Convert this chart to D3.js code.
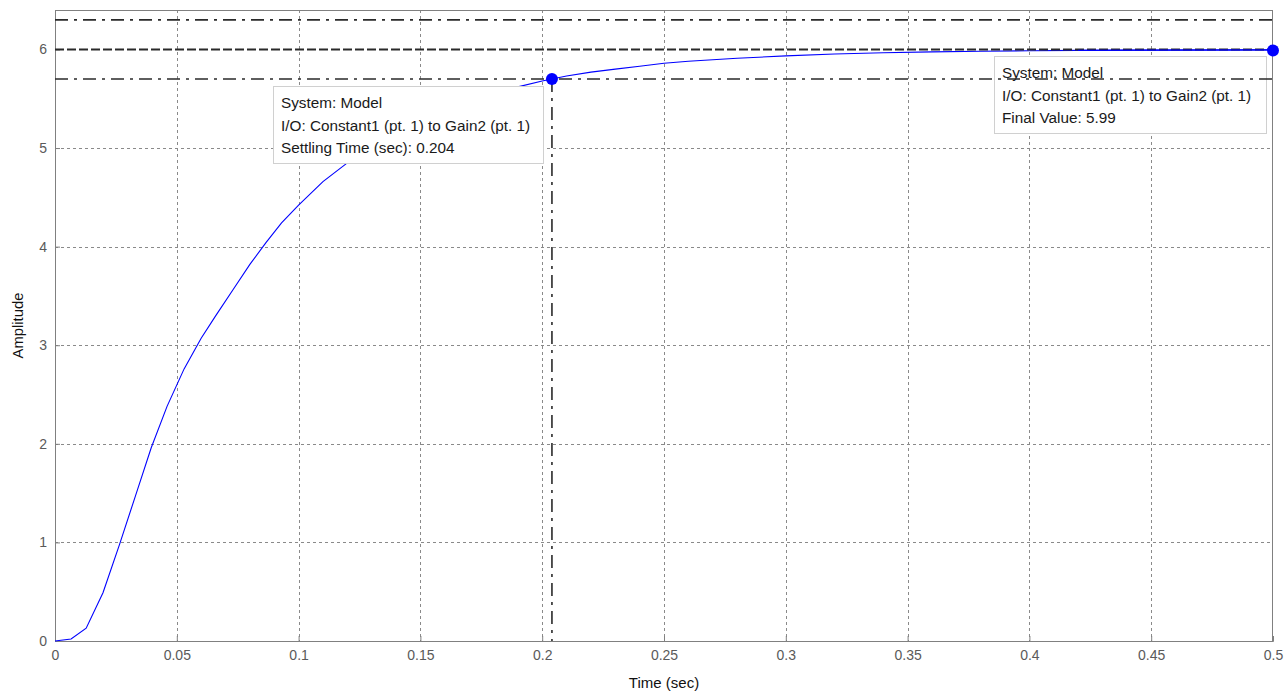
<!DOCTYPE html>
<html>
<head>
<meta charset="utf-8">
<script src="https://cdn.jsdelivr.net/npm/d3@7"></script>
<style>
  html, body { margin: 0; padding: 0; background: #fff; }
  svg { display: block; font-family: Arial, "Liberation Sans", sans-serif; }
</style>
</head>
<body>
<svg id="chart" width="1286" height="691"></svg>
<script>
// ---- data ----
const timeSec = [0, 0.0066, 0.0128, 0.0197, 0.0265, 0.033, 0.0395, 0.046, 0.053, 0.06, 0.066, 0.073, 0.08, 0.0866, 0.093, 0.1, 0.11, 0.12, 0.13, 0.14, 0.15, 0.16, 0.17, 0.18, 0.19, 0.2, 0.204, 0.21, 0.22, 0.23, 0.24, 0.25, 0.26, 0.28, 0.3, 0.32, 0.34, 0.36, 0.38, 0.4, 0.42, 0.45, 0.5];
const amplitude = [0, 0.02, 0.13, 0.49, 0.98, 1.47, 1.96, 2.38, 2.76, 3.07, 3.30, 3.56, 3.82, 4.04, 4.24, 4.42, 4.66, 4.85, 5.02, 5.16, 5.29, 5.39, 5.48, 5.56, 5.62, 5.68, 5.70, 5.73, 5.77, 5.80, 5.83, 5.86, 5.88, 5.91, 5.935, 5.953, 5.966, 5.975, 5.982, 5.987, 5.99, 5.993, 5.996];
const xTicks = [0, 0.05, 0.1, 0.15, 0.2, 0.25, 0.3, 0.35, 0.4, 0.45, 0.5];
const yTicks = [0, 1, 2, 3, 4, 5, 6];
const finalValue = 6;
const settlingBand = [5.7, 6.3];
const settlingPoint = {t: 0.204, y: 5.70};
const finalPoint = {t: 0.5, y: 5.99};
const tip1 = ["System: Model", "I/O: Constant1 (pt. 1) to Gain2 (pt. 1)", "Settling Time (sec): 0.204"];
const tip2 = ["System: Model", "I/O: Constant1 (pt. 1) to Gain2 (pt. 1)", "Final Value: 5.99"];

// ---- layout ----
const W = 1286, H = 691;
const m = {top: 10, right: 13, bottom: 50, left: 55};
const svg = d3.select("#chart");
const x = d3.scaleLinear().domain([0, 0.5]).range([m.left, W - m.right]);
const y = d3.scaleLinear().domain([0, 6.4]).range([H - m.bottom, m.top]);
const x0 = x.range()[0], x1 = x.range()[1], y0 = y.range()[0], y1 = y.range()[1];

// grid
const grid = svg.append("g").attr("stroke", "#8a8a8a").attr("stroke-width", 1).attr("stroke-dasharray", "3,3");
grid.selectAll("line.gx").data(xTicks.slice(1, -1)).join("line")
  .attr("x1", d => Math.round(x(d)) + 0.5).attr("x2", d => Math.round(x(d)) + 0.5)
  .attr("y1", y1).attr("y2", y0);
grid.selectAll("line.gy").data(yTicks.slice(1)).join("line")
  .attr("y1", d => Math.round(y(d)) + 0.5).attr("y2", d => Math.round(y(d)) + 0.5)
  .attr("x1", x0).attr("x2", x1);

// axes (ticks inward, matlab style)
const xAxis = d3.axisBottom(x).tickValues(xTicks).tickSize(-5).tickPadding(9).tickFormat(d => String(+d.toFixed(2)));
const yAxis = d3.axisLeft(y).tickValues(yTicks).tickSize(-5).tickPadding(8).tickFormat(d3.format("d"));
const gx = svg.append("g").attr("transform", `translate(0,${y0})`).call(xAxis);
const gy = svg.append("g").attr("transform", `translate(${x0},0)`).call(yAxis);
[gx, gy].forEach(g => {
  g.select(".domain").attr("stroke", "#808080");
  g.selectAll(".tick line").attr("stroke", "#808080");
  g.selectAll(".tick text").attr("fill", "#5a5a5a").attr("font-size", 14).attr("font-family", "Arial, 'Liberation Sans', sans-serif");
});
// top and right box edges
svg.append("line").attr("x1", x0).attr("x2", x1).attr("y1", y1 + 0.5).attr("y2", y1 + 0.5).attr("stroke", "#808080");
svg.append("line").attr("x1", x1 - 0.5).attr("x2", x1 - 0.5).attr("y1", y1).attr("y2", y0).attr("stroke", "#808080");

// response curve
const line = d3.line().x((d, i) => x(timeSec[i])).y(d => y(d)).curve(d3.curveLinear);
svg.append("path").datum(amplitude).attr("d", line)
  .attr("fill", "none").attr("stroke", "#0000ff").attr("stroke-width", 1.1);

// data tips
function tip(left, top, w, h, lines) {
  const g = svg.append("g");
  g.append("rect").attr("x", left + 0.5).attr("y", top + 0.5).attr("width", w).attr("height", h)
    .attr("fill", "#fff").attr("stroke", "#d0d0d0");
  lines.forEach((t, i) => {
    g.append("text").attr("x", left + 8).attr("y", top + 22 + i * 22.5)
      .attr("font-size", 15.3).attr("fill", "#1a1a1a").text(t);
  });
  return g;
}
tip(273, 86, 270, 77, tip1);
tip(994, 56, 272, 77, tip2);

// characteristic lines (drawn over the tips, as in the reference)
const charColor = "#2a2a2a";
const dashDot = "13,6,3,6";
settlingBand.forEach(v => {
  svg.append("line").attr("x1", x0).attr("x2", x1)
    .attr("y1", y(v)).attr("y2", y(v))
    .attr("stroke", charColor).attr("stroke-width", 1.6).attr("stroke-dasharray", dashDot);
});
svg.append("line").attr("x1", x0).attr("x2", x1)
  .attr("y1", y(finalValue)).attr("y2", y(finalValue))
  .attr("stroke", charColor).attr("stroke-width", 2).attr("stroke-dasharray", "9,3");
svg.append("line").attr("x1", x(settlingPoint.t)).attr("x2", x(settlingPoint.t))
  .attr("y1", y(settlingPoint.y)).attr("y2", y0)
  .attr("stroke", charColor).attr("stroke-width", 1.6).attr("stroke-dasharray", dashDot);

// curve tail visible over the final-value line near the end
svg.append("path").datum(amplitude.slice(-3)).attr("d", d3.line().x((d, i) => x(timeSec[timeSec.length - 3 + i])).y(d => y(d)))
  .attr("fill", "none").attr("stroke", "#0000ff").attr("stroke-width", 1.1);

// markers
[settlingPoint, finalPoint].forEach(p => {
  svg.append("circle").attr("cx", x(p.t)).attr("cy", y(p.y)).attr("r", 6).attr("fill", "#0000ff");
});

// axis labels
svg.append("text").attr("x", x(0.25)).attr("y", 688).attr("text-anchor", "middle")
  .attr("font-size", 15).attr("fill", "#111").text("Time (sec)");
svg.append("text").attr("transform", `translate(23,${(y0 + y1) / 2}) rotate(-90)`)
  .attr("text-anchor", "middle").attr("font-size", 14.8).attr("fill", "#111").text("Amplitude");
</script>
</body>
</html>
